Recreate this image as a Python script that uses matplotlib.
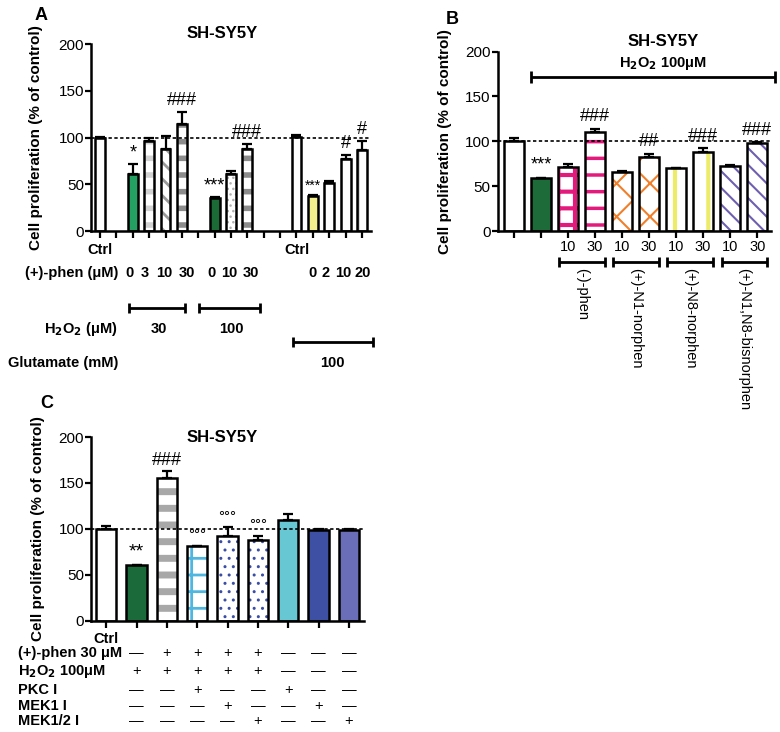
import numpy as np
import matplotlib
matplotlib.use("Agg")
import matplotlib.pyplot as plt
from matplotlib.transforms import blended_transform_factory

plt.rcParams['font.family'] = ['Liberation Sans', 'DejaVu Sans']
plt.rcParams['hatch.linewidth'] = 2.0

W, H = 780, 732

# ---------------- data ----------------
# panel A
a_pos = [0, 2, 3, 4, 5, 7, 8, 9, 12, 13, 14, 15, 16]
a_vals = [100, 61, 96, 88, 114, 35.5, 61, 88, 100.5, 37, 51, 77, 87]
a_err = [1, 10.5, 3.5, 13.5, 13.5, 0.5, 3.5, 5, 2, 1, 2, 4.5, 9]
a_phen = ['0', '3', '10', '30', '0', '10', '30', '0', '2', '10', '20']
a_phen_x = [1.8, 2.75, 3.9, 5.3, 6.8, 7.9, 9.2, 13.0, 13.75, 14.85, 16.05]
a_stars = {1: '*', 4: '###', 5: '***', 7: '###', 11: '#', 12: '#'}

# panel B
b_vals = [100, 59.6, 71.5, 110.5, 66, 83, 70, 88.5, 72.5, 97.5]
b_err = [3.5, 0, 3, 3.5, 1, 3, 0, 3.5, 0.5, 1.5]
b_conc = ['', '', '10', '30', '10', '30', '10', '30', '10', '30']
b_drugs = ['(-)-phen', '(+)-N1-norphen', '(+)-N8-norphen', '(+)-N1,N8-bisnorphen']
b_stars = {1: '***', 3: '###', 5: '##', 7: '###', 9: '###'}

# panel C
c_vals = [100, 60.5, 155.5, 81, 92.5, 87.5, 109.5, 99, 98.5]
c_err = [3, 0, 7, 0.5, 9, 5, 7, 1, 1]
c_stars = {1: '**', 2: '###', 3: '\u00b0\u00b0\u00b0', 4: '\u00b0\u00b0\u00b0', 5: '\u00b0\u00b0\u00b0'}
c_rows = ['(+)-phen 30 \u03bcM', 'H$_\\mathbf{2}$O$_\\mathbf{2}$ 100\u03bcM', 'PKC I', 'MEK1 I', 'MEK1/2 I']
c_table = [
    ['-', '+', '+', '+', '+', '-', '-', '-'],
    ['+', '+', '+', '+', '+', '-', '-', '-'],
    ['-', '-', '+', '-', '-', '+', '-', '-'],
    ['-', '-', '-', '+', '-', '-', '+', '-'],
    ['-', '-', '-', '-', '+', '-', '-', '+'],
]

# styles: (facecolor, hatchcolor, hatch, hatch linewidth)
a_style = [('white', None, None, 0), ('#23a062', None, None, 0), ('white', '#d2d2d2', '-', 4),
           ('white', '#9a9a9a', '\\\\', 2), ('white', '#8c8c8c', '-', 4), ('#1b6b36', None, None, 0),
           ('white', '#b0b0b0', '...', 1), ('white', '#8c8c8c', '-', 4), ('white', None, None, 0),
           ('#f4f08e', None, None, 0), ('white', None, None, 0), ('white', None, None, 0),
           ('white', '#9a9a9a', '|', 1.5)]
b_style = [('white', None, None, 0), ('#1d6b38', None, None, 0), ('white', '#e3197b', '+', 3),
           ('white', '#e3197b', '-', 2.5), ('white', '#f07f2a', 'x', 1.5), ('white', '#f07f2a', 'x', 1.5),
           ('white', '#ecec6a', '|', 3), ('white', '#ecec6a', '|', 3), ('white', '#6f5fb0', '\\\\', 1.5),
           ('white', '#6f5fb0', '\\\\', 1.5)]
c_style = [('white', None, None, 0), ('#1b6b3a', None, None, 0), ('white', '#a8a8a8', '-', 5),
           ('white', '#4fb6e0', '+', 2), ('white', '#3b4ea6', '..', 1), ('white', '#3b4ea6', '..', 1),
           ('#67c8d4', None, None, 0), ('#3d50a4', None, None, 0), ('#6a6eb8', None, None, 0)]

FS = 10.5


def px(x, y):
    return x / W, 1 - y / H


def make_axes(fig, left, top, right, bottom):
    return fig.add_axes([left / W, 1 - bottom / H, (right - left) / W, (bottom - top) / H])


def draw_bars(ax, pos, vals, err, styles, width):
    for x, v, (fc, hc, hatch, hlw) in zip(pos, vals, styles):
        if hatch:
            with plt.rc_context({'hatch.linewidth': hlw}):
                b = ax.bar(x, v, width, color=fc, edgecolor=hc, hatch=hatch, lw=0, zorder=2)
                for p in b:
                    if hasattr(p, 'set_hatch_linewidth'):
                        p.set_hatch_linewidth(hlw)
            ax.bar(x, v, width, fill=False, edgecolor='black', lw=1.8, zorder=3)
        else:
            ax.bar(x, v, width, color=fc, edgecolor='black', lw=1.8, zorder=2)
    ax.errorbar(pos, vals, yerr=[np.zeros(len(err)), err], fmt='none', ecolor='black',
                elinewidth=1.6, capsize=3.5, capthick=1.6, zorder=4)


def style_axes(ax, ticks, xlim, lx):
    ax.set_ylim(0, 200)
    ax.set_xlim(*xlim)
    ax.set_yticks([0, 50, 100, 150, 200])
    ax.set_xticks(ticks)
    ax.tick_params(axis='x', length=5, width=1.6, labelbottom=False)
    ax.tick_params(axis='y', length=4, width=1.6, labelsize=11, pad=1)
    for s in ['top', 'right']:
        ax.spines[s].set_visible(False)
    for s in ['left', 'bottom']:
        ax.spines[s].set_linewidth(1.8)
    ax.set_ylabel('Cell proliferation (% of control)', fontsize=11, fontweight='bold')
    ax.yaxis.set_label_coords(lx, 0.5)
    ax.axhline(100, color='black', lw=1.2, ls=(0, (2, 1.5)), zorder=5)


def bracket(fig, ax, x0, x1, ypix, ch=5):
    tr = blended_transform_factory(ax.transData, fig.transFigure)
    y = 1 - ypix / H
    dy = ch / H
    kw = dict(color='black', lw=2, transform=tr, clip_on=False, solid_capstyle='butt')
    ax.plot([x0, x1], [y, y], **kw)
    ax.plot([x0, x0], [y - dy, y + dy], **kw)
    ax.plot([x1, x1], [y - dy, y + dy], **kw)


def label(fig, ax, x, ypix, s, **kw):
    tr = blended_transform_factory(ax.transData, fig.transFigure)
    ax.text(x, 1 - ypix / H, s, transform=tr, clip_on=False, ha='center', va='center', **kw)


fig = plt.figure(figsize=(W / 100, H / 100), dpi=100)

# ---------------- panel A ----------------
axA = make_axes(fig, 91, 44, 371, 231)
draw_bars(axA, a_pos, a_vals, a_err, a_style, 0.6)
style_axes(axA, range(17), (-0.55, 16.55), -0.17)
for i, s in a_stars.items():
    axA.text(a_pos[i], a_vals[i] + a_err[i] + 3, s, ha='center', va='bottom', fontsize=13)
axA.text(a_pos[9], a_vals[9] + a_err[9] + 3, '***', ha='center', va='bottom', fontsize=10)
fig.text(*px(222, 33), 'SH-SY5Y', ha='center', va='center', fontsize=12, fontweight='bold')
fig.text(*px(41, 15), 'A', ha='center', va='center', fontsize=13, fontweight='bold')
for x in (a_pos[0], a_pos[8]):
    label(fig, axA, x, 250, 'Ctrl', fontsize=FS, fontweight='bold')
for x, s in zip(a_phen_x, a_phen):
    label(fig, axA, x, 273, s, fontsize=FS, fontweight='bold')
fig.text(*px(118, 273), '(+)-phen (\u03bcM)', ha='right', va='center', fontsize=FS, fontweight='bold')
bracket(fig, axA, 1.8, 5.2, 308)
bracket(fig, axA, 6.05, 9.75, 308)
fig.text(*px(118, 329), 'H$_\\mathbf{2}$O$_\\mathbf{2}$ (\u03bcM)', ha='right', va='center',
         fontsize=FS, fontweight='bold')
label(fig, axA, 3.6, 329, '30', fontsize=FS, fontweight='bold')
label(fig, axA, 8.05, 329, '100', fontsize=FS, fontweight='bold')
bracket(fig, axA, 11.8, 16.7, 342)
fig.text(*px(118, 363), 'Glutamate (mM)', ha='right', va='center', fontsize=FS, fontweight='bold')
label(fig, axA, 14.2, 363, '100', fontsize=FS, fontweight='bold')

# ---------------- panel B ----------------
axB = make_axes(fig, 497.7, 51.5, 770.7, 231)
b_pos = np.arange(len(b_vals))
draw_bars(axB, b_pos, b_vals, b_err, b_style, 0.72)
style_axes(axB, b_pos, (-0.6, 9.5), -0.167)
for i, s in b_stars.items():
    axB.text(b_pos[i], b_vals[i] + b_err[i] + 4, s, ha='center', va='bottom', fontsize=13)
fig.text(*px(663, 42), 'SH-SY5Y', ha='center', va='center', fontsize=12, fontweight='bold')
fig.text(*px(663, 63), 'H$_\\mathbf{2}$O$_\\mathbf{2}$ 100\u03bcM', ha='center', va='center',
         fontsize=FS, fontweight='bold')
fig.text(*px(452, 20), 'B', ha='center', va='center', fontsize=13, fontweight='bold')
bracket(fig, axB, 0.63, 9.67, 77, ch=6)
for x, s in zip(b_pos, b_conc):
    if s:
        label(fig, axB, x, 247, s, fontsize=FS)
for k, name in enumerate(b_drugs):
    x0, x1 = b_pos[2 + 2 * k] - 0.32, b_pos[3 + 2 * k] + 0.38
    bracket(fig, axB, x0, x1, 262)
    tr = blended_transform_factory(axB.transData, fig.transFigure)
    axB.text((x0 + x1) / 2, 1 - 268 / H, name, transform=tr, clip_on=False, rotation=-90,
             ha='center', va='top', fontsize=FS)

# ---------------- panel C ----------------
axC = make_axes(fig, 91, 437, 364, 620.7)
c_pos = np.arange(len(c_vals))
draw_bars(axC, c_pos, c_vals, c_err, c_style, 0.66)
style_axes(axC, c_pos, (-0.5, 8.5), -0.168)
for i, s in c_stars.items():
    if i == 1:
        axC.text(c_pos[i], c_vals[i] + 5, s, ha='center', va='bottom', fontsize=14)
    elif i == 2:
        axC.text(c_pos[i], c_vals[i] + c_err[i] + 3, s, ha='center', va='bottom', fontsize=13)
    else:
        axC.text(c_pos[i], c_vals[i] + c_err[i] + 4, s, ha='center', va='bottom', fontsize=11)
fig.text(*px(222, 437), 'SH-SY5Y', ha='center', va='center', fontsize=12, fontweight='bold')
fig.text(*px(47, 403), 'C', ha='center', va='center', fontsize=13, fontweight='bold')
label(fig, axC, c_pos[0], 639, 'Ctrl', fontsize=FS, fontweight='bold')
row_y = [653, 671, 690, 706, 721]
for name, yy, row in zip(c_rows, row_y, c_table):
    fig.text(*px(18, yy), name, ha='left', va='center', fontsize=FS, fontweight='bold')
    for x, s in zip(c_pos[1:], row):
        label(fig, axC, x, yy, '\u2014' if s == '-' else '+', fontsize=FS)

fig.savefig('out.png', dpi=100)
